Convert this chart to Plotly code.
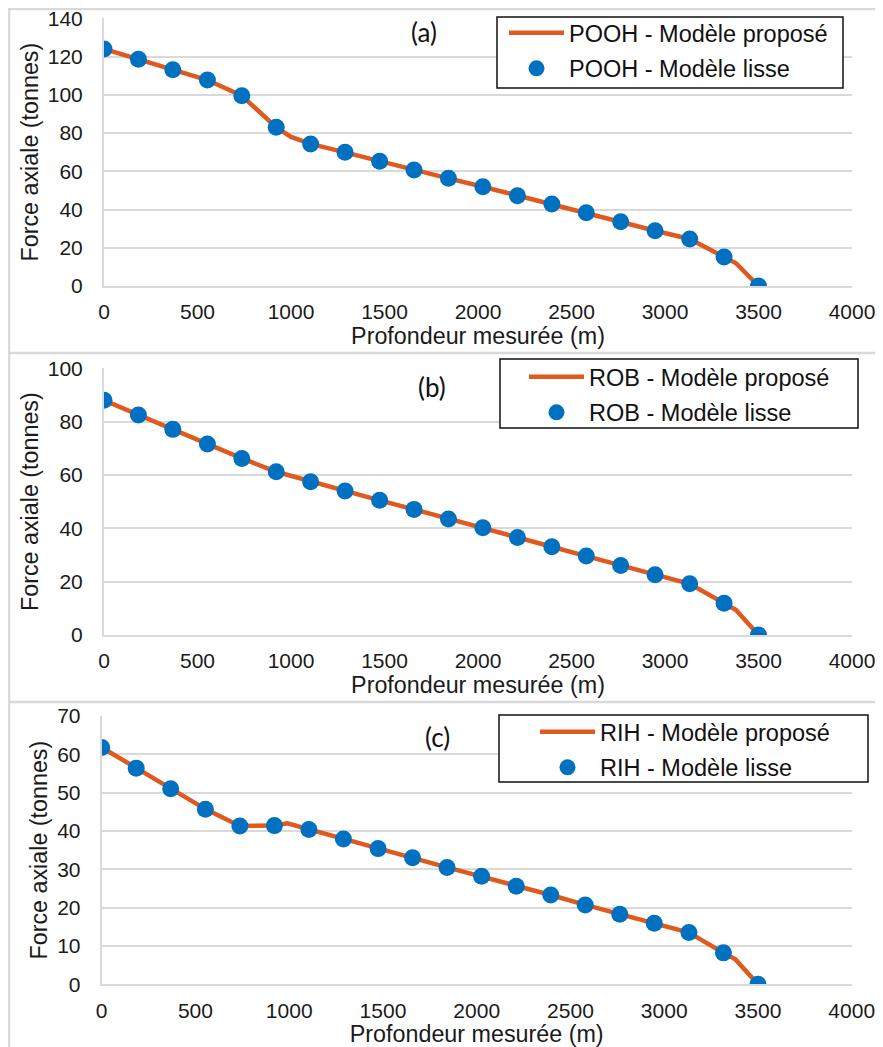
import plotly.graph_objects as go

# The page body adds an 8 px margin, so the figure is drawn 8 px smaller
# and all reference pixel positions are shifted by that offset.
OFF = 8
W, H = 883 - OFF, 1047 - OFF

# ---------------- data ----------------
depth_pts = [0, 184, 368, 553, 737, 921, 1105, 1289, 1474, 1658,
             1842, 2026, 2211, 2395, 2579, 2763, 2947, 3132, 3316, 3500]

# (a) POOH
pooh_lisse = [124.0, 118.6, 113.1, 107.7, 99.5, 83.0, 74.3, 69.9, 65.2, 60.7,
              56.3, 51.9, 47.2, 42.9, 38.3, 33.6, 28.9, 24.6, 15.2, 0.0]
pooh_line_depth = [0, 184, 368, 553, 737, 921, 1000, 1105, 1289, 1474, 1658,
                   1842, 2026, 2211, 2395, 2579, 2763, 2947, 3132, 3316, 3380, 3500]
pooh_propose = [124.0, 118.6, 113.1, 107.7, 99.5, 83.0, 78.0, 74.3, 69.9, 65.2, 60.7,
                56.3, 51.9, 47.2, 42.9, 38.3, 33.6, 28.9, 24.6, 15.2, 11.9, 0.0]

# (b) ROB
rob_lisse = [88.0, 82.5, 77.1, 71.6, 66.2, 61.2, 57.5, 54.0, 50.5, 47.1,
             43.5, 40.2, 36.6, 33.1, 29.6, 26.1, 22.6, 19.2, 11.9, 0.0]
rob_line_depth = [0, 184, 368, 553, 737, 921, 1105, 1289, 1474, 1658,
                  1842, 2026, 2211, 2395, 2579, 2763, 2947, 3132, 3316, 3380, 3500]
rob_propose = [88.0, 82.5, 77.1, 71.6, 66.2, 61.2, 57.5, 54.0, 50.5, 47.1,
               43.5, 40.2, 36.6, 33.1, 29.6, 26.1, 22.6, 19.2, 11.9, 9.4, 0.0]

# (c) RIH
rih_lisse = [61.8, 56.4, 51.0, 45.7, 41.3, 41.4, 40.4, 37.9, 35.4, 33.0,
             30.5, 28.2, 25.6, 23.3, 20.7, 18.3, 15.9, 13.5, 8.2, 0.0]
rih_line_depth = [0, 184, 368, 553, 737, 921, 990, 1105, 1289, 1474, 1658,
                  1842, 2026, 2211, 2395, 2579, 2763, 2947, 3132, 3316, 3380, 3500]
rih_propose = [61.8, 56.4, 51.0, 45.7, 41.3, 41.4, 42.0, 40.4, 37.9, 35.4, 33.0,
               30.5, 28.2, 25.6, 23.3, 20.7, 18.3, 15.9, 13.5, 8.2, 6.5, 0.0]

x_ticks = [0, 500, 1000, 1500, 2000, 2500, 3000, 3500, 4000]
panel_labels = ["(a)", "(b)", "(c)"]
name_line = ["POOH - Modèle proposé", "ROB - Modèle proposé", "RIH - Modèle proposé"]
name_pts = ["POOH - Modèle lisse", "ROB - Modèle lisse", "RIH - Modèle lisse"]
y_max = [140, 100, 70]
y_dtick = [20, 20, 10]
x_title = "Profondeur mesurée (m)"
y_title = "Force axiale (tonnes)"

# ---------------- layout helpers (screen pixel geometry) ----------------
def px(x):
    return (x - OFF) / W

def py(y):
    return 1 - (y - OFF) / H

# plot areas in screen pixels: (left, right, top, bottom)
areas = [(104, 852, 18.3, 286), (104, 852, 368.3, 635), (101.7, 851.7, 716, 984.3)]
# legend boxes in screen pixels: (left, right, top, bottom)
leg_boxes = [(497, 843, 17, 88), (500, 858, 359, 428), (499, 868, 715, 782)]
# legend symbol start x and first-row centre y
leg_sym_x = [509, 529, 540]
leg_row1_y = [33, 377, 732]
label_pos = [(424, 32), (432, 387), (437, 737)]

ORANGE = "#DE5A1F"
BLUE = "#0070C0"
GRID = "#D9D9D9"
FONT = "Liberation Sans, Arial, sans-serif"
TXT = "#1A1A1A"

lines = [(pooh_line_depth, pooh_propose), (rob_line_depth, rob_propose), (rih_line_depth, rih_propose)]
pts = [pooh_lisse, rob_lisse, rih_lisse]

fig = go.Figure()
legend_keys = ["legend", "legend2", "legend3"]

for i in range(3):
    xa = "x" if i == 0 else f"x{i+1}"
    ya = "y" if i == 0 else f"y{i+1}"
    lx, ly = lines[i]
    fig.add_trace(go.Scatter(x=lx, y=ly, mode="lines", name=name_line[i],
                             line=dict(color=ORANGE, width=4.5),
                             xaxis=xa, yaxis=ya, legend=legend_keys[i],
                             legendgroup=f"l{i}"))
    fig.add_trace(go.Scatter(x=depth_pts, y=pts[i], mode="markers", name=name_pts[i],
                             marker=dict(color=BLUE, size=17),
                             xaxis=xa, yaxis=ya, legend=legend_keys[i],
                             legendgroup=f"p{i}"))

layout = dict(width=W, height=H, margin=dict(l=0, r=0, t=0, b=0, autoexpand=False),
              paper_bgcolor="white", plot_bgcolor="white",
              font=dict(family=FONT, size=21, color=TXT),
              showlegend=True)

shapes = []
annotations = []
for i in range(3):
    l, r, t, b = areas[i]
    xk = "xaxis" if i == 0 else f"xaxis{i+1}"
    yk = "yaxis" if i == 0 else f"yaxis{i+1}"
    yanchor = "y" if i == 0 else f"y{i+1}"
    xanchor = "x" if i == 0 else f"x{i+1}"
    layout[xk] = dict(domain=[px(l), px(r)], anchor=yanchor, range=[0, 4000],
                      tickvals=x_ticks, showgrid=False, showline=True,
                      linecolor=GRID, linewidth=2, zeroline=False,
                      ticks="", ticklabelstandoff=6, automargin=False,
                      ticklabeloverflow="allow",
                      tickfont=dict(size=21, family=FONT, color=TXT),
                      title=dict(text=x_title, standoff=2,
                                 font=dict(size=23.3, family=FONT, color=TXT)))
    layout[yk] = dict(domain=[py(b), py(t)], anchor=xanchor, range=[0, y_max[i]],
                      dtick=y_dtick[i], showgrid=True, gridcolor=GRID, gridwidth=1.8,
                      showline=True, linecolor=GRID, linewidth=2, zeroline=False,
                      ticks="", ticklabelstandoff=15, automargin=False,
                      ticklabeloverflow="allow",
                      tickfont=dict(size=21, family=FONT, color=TXT),
                      title=dict(text=y_title, standoff=3,
                                 font=dict(size=23.3, family=FONT, color=TXT)))
    # legend box
    bl, br, bt, bb = leg_boxes[i]
    shapes.append(dict(type="rect", xref="paper", yref="paper",
                       x0=px(bl), x1=px(br), y0=py(bb), y1=py(bt),
                       line=dict(color="#111111", width=1.5), fillcolor="white",
                       layer="above"))
    layout[legend_keys[i]] = dict(x=px(leg_sym_x[i] - 5), y=py(leg_row1_y[i] - 22),
                                  xanchor="left", yanchor="top",
                                  bgcolor="rgba(0,0,0,0)", borderwidth=0,
                                  tracegroupgap=2, itemwidth=55,
                                  font=dict(size=23.5, family=FONT, color="#111111"))
    lx_, ly_ = label_pos[i]
    annotations.append(dict(text=panel_labels[i], xref="paper", yref="paper",
                            x=px(lx_), y=py(ly_), xanchor="center", yanchor="middle",
                            showarrow=False,
                            font=dict(size=26, family="Lato, Open Sans, sans-serif", color="#111111")))

# panel separator frame lines
for ysep in [9, 353, 702]:
    shapes.append(dict(type="line", xref="paper", yref="paper",
                       x0=0, x1=1, y0=py(ysep), y1=py(ysep),
                       line=dict(color=GRID, width=2.5), layer="below"))
shapes.append(dict(type="line", xref="paper", yref="paper",
                   x0=px(9), x1=px(9), y0=0, y1=py(9),
                   line=dict(color=GRID, width=2.5), layer="below"))

layout["shapes"] = shapes
layout["annotations"] = annotations
fig.update_layout(**layout)

fig.write_html("out.html")
